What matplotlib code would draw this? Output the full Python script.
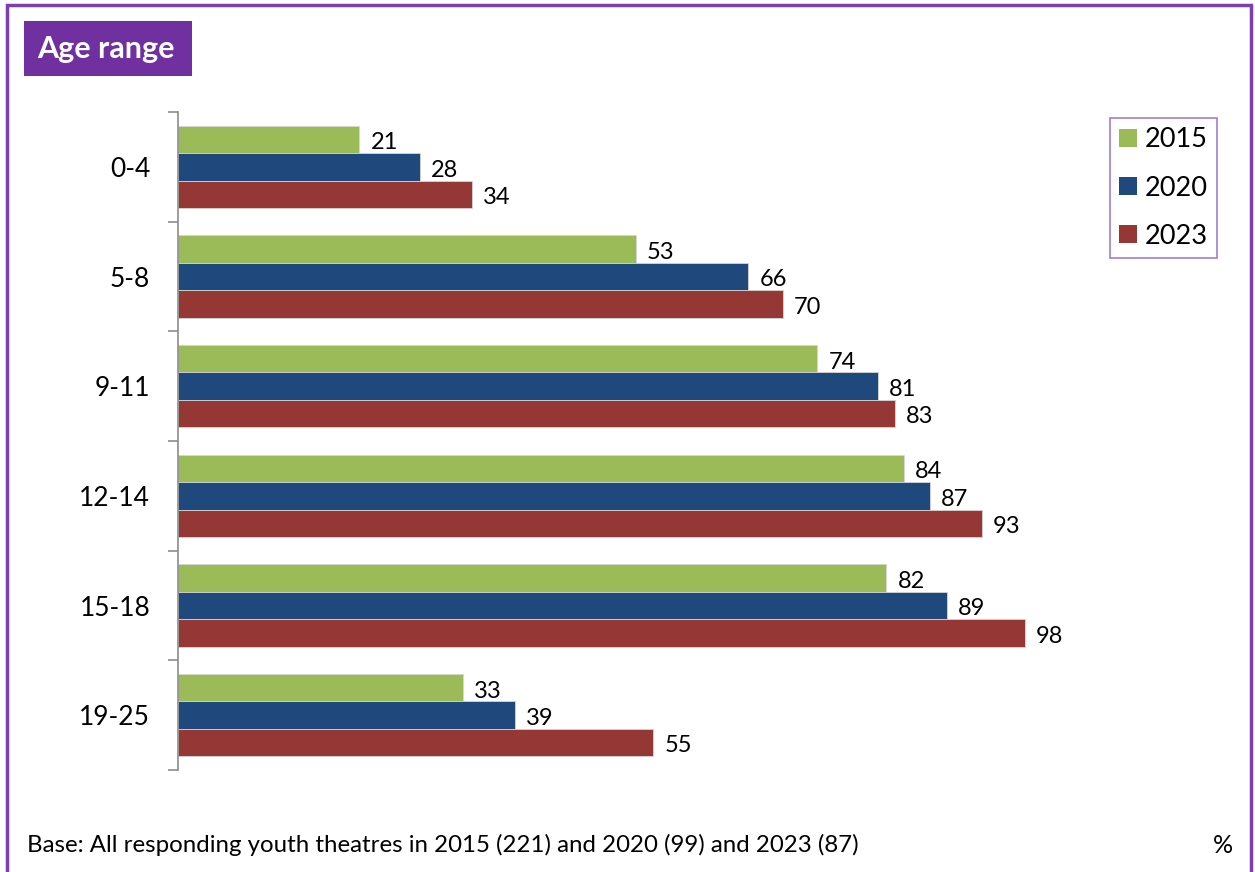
import matplotlib.pyplot as plt
import numpy as np
from matplotlib.patches import Rectangle, Patch

plt.rcParams['font.family'] = ['Lato', 'DejaVu Sans']

W, H = 1255, 872

categories = ['0-4', '5-8', '9-11', '12-14', '15-18', '19-25']
years = ['2015', '2020', '2023']
v2015 = [21, 53, 74, 84, 82, 33]
v2020 = [28, 66, 81, 87, 89, 39]
v2023 = [34, 70, 83, 93, 98, 55]
footnote = 'Base: All responding youth theatres in 2015 (221) and 2020 (99) and 2023 (87)'

colors = ['#9BBB59', '#1F497D', '#953735']
purple = '#7030A0'


def fx(px):
    return px / W


def fy(py):
    return 1 - py / H


fig = plt.figure(figsize=(W / 100, H / 100), dpi=100)

# outer purple frame
fig.patches.append(Rectangle((fx(7), fy(H + 20)), fx(1251) - fx(7), fy(5) - fy(H + 20),
                             transform=fig.transFigure, fill=False,
                             edgecolor='#7B3FB0', linewidth=2.5))

# title block
fig.patches.append(Rectangle((fx(24), fy(76)), fx(192) - fx(24), fy(21) - fy(76),
                             transform=fig.transFigure, facecolor=purple, edgecolor='none'))
fig.text(fx(37), fy(49), 'Age range', color='white', fontsize=22, fontweight='bold',
         ha='left', va='center')

ax = fig.add_axes([fx(178), fy(770), fx(1042) - fx(178), fy(112) - fy(770)])

y = np.arange(len(categories))
bh = 0.25
for k, (vals, c) in enumerate(zip([v2015, v2020, v2023], colors)):
    pos = y - bh + k * bh
    ax.barh(pos, vals, height=bh, color=c, edgecolor='#d6d6d6', linewidth=0.6)
    for p, v in zip(pos, vals):
        ax.text(v + 1.3, p + 0.03, str(v), ha='left', va='center', fontsize=17, color='black')

ax.set_xlim(0, 100)
ax.set_ylim(len(categories) - 0.5, -0.5)
ax.set_xticks([])
ax.set_yticks(y)
ax.set_yticklabels(categories, fontsize=19)
ax.tick_params(axis='y', which='major', length=0, pad=20)
ax.set_yticks(np.arange(-0.5, len(categories)), minor=True)
ax.tick_params(axis='y', which='minor', length=7, width=1.2, color='#8c8c8c', direction='out')
for s in ['top', 'right', 'bottom']:
    ax.spines[s].set_visible(False)
ax.spines['left'].set_color('#8c8c8c')
ax.spines['left'].set_linewidth(1.2)

handles = [Patch(facecolor=c, edgecolor='none') for c in colors]
leg = fig.legend(handles, years, loc='upper left',
                 bbox_to_anchor=(fx(1110), fy(118)), borderaxespad=0,
                 fontsize=19.5, frameon=True, fancybox=False,
                 handlelength=0.63, handleheight=0.63, handletextpad=0.3,
                 labelspacing=0.85, borderpad=0.35)
leg.get_frame().set_edgecolor('#8E5CC4')
leg.get_frame().set_linewidth(1.2)

fig.text(fx(27), fy(845), footnote, fontsize=17.3, ha='left', va='center')
fig.text(fx(1233), fy(845), '%', fontsize=18, ha='right', va='center')

fig.savefig('out.png', dpi=100)
